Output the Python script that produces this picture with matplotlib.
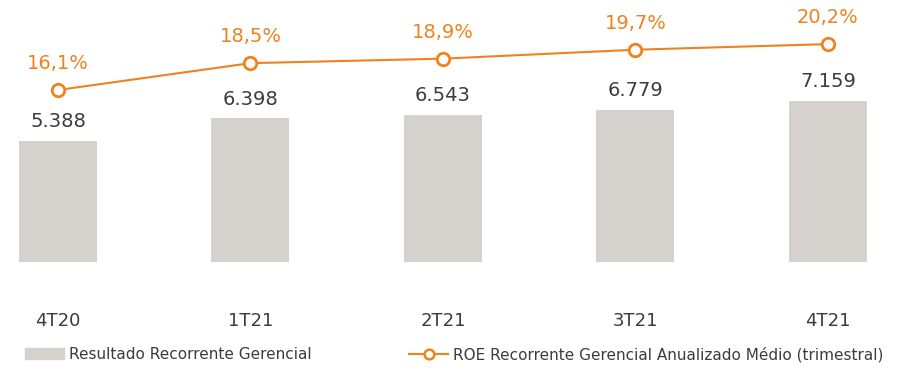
import matplotlib.pyplot as plt
import numpy as np
from matplotlib.lines import Line2D
from matplotlib.patches import Patch

quarters = ["4T20", "1T21", "2T21", "3T21", "4T21"]
resultado = [5388, 6398, 6543, 6779, 7159]
roe = [16.1, 18.5, 18.9, 19.7, 20.2]

bar_color = "#d5d1cd"
orange = "#f0821e"
text_gray = "#3c3c3c"

fig = plt.figure(figsize=(9.08, 3.73), dpi=100)
ax = fig.add_axes([0, 111 / 373, 1, 262 / 373])
x = np.arange(len(quarters))

bars = ax.bar(x, resultado, width=0.405, color=bar_color)
labels = [f"{v:,}".replace(",", ".") for v in resultado]
ax.bar_label(bars, labels=labels, padding=7, fontsize=14, color=text_gray)

ax.set_xlim(-0.301, 4.416)
ax.set_ylim(0, 11666)
ax.set_xticks(x)
ax.set_xticklabels(quarters, fontsize=13, color=text_gray)
ax.tick_params(axis='x', length=0, pad=36)
ax.set_yticks([])
for s in ax.spines.values():
    s.set_visible(False)

ax2 = ax.twinx()
ax2.plot(x, roe, color=orange, lw=1.5, marker='o', ms=9, mfc='white',
         mec=orange, mew=2)
for xi, v in zip(x, roe):
    ax2.annotate(f"{v:.1f}%".replace(".", ","), (xi, v), xytext=(0, 12),
                 textcoords='offset points', ha='center', va='bottom',
                 fontsize=14, color=orange)
ax2.set_ylim(0.74, 24.14)
ax2.set_yticks([])
for s in ax2.spines.values():
    s.set_visible(False)

bar_handle = Patch(color=bar_color)
line_handle = Line2D([], [], color=orange, lw=1.5, marker='o', ms=7,
                     mfc='white', mec=orange, mew=1.8)
fig.legend([bar_handle], ["Resultado Recorrente Gerencial"], loc='center left',
           bbox_to_anchor=(0.012, 0.05), frameon=False, fontsize=11,
           handlelength=2.6, handletextpad=0.3, labelcolor=text_gray)
fig.legend([line_handle], ["ROE Recorrente Gerencial Anualizado Médio (trimestral)"],
           loc='center left', bbox_to_anchor=(0.435, 0.05), frameon=False,
           fontsize=11, handlelength=2.6, handletextpad=0.3, labelcolor=text_gray)

fig.savefig("out.png", dpi=100)
